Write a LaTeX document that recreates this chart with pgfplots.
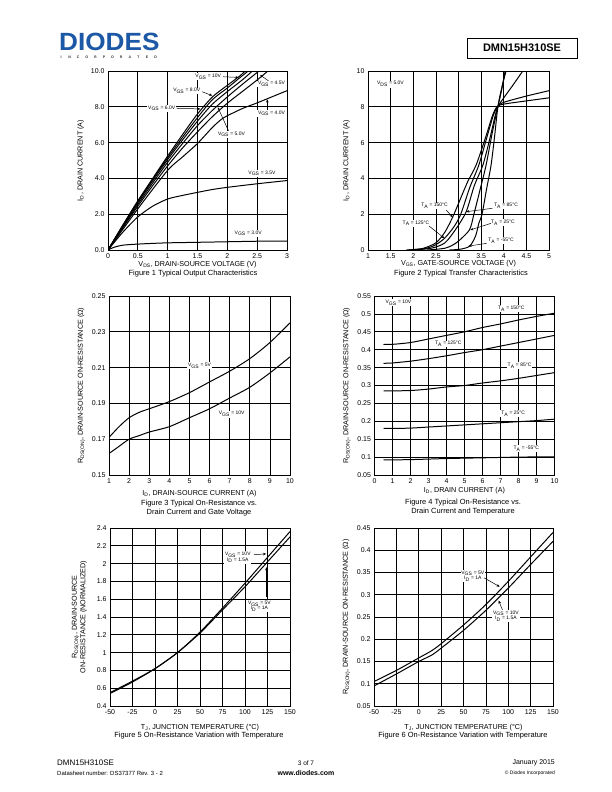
\documentclass[border=0pt]{standalone}
\usepackage{fontspec}
\setmainfont{Liberation Sans}
\usepackage{pgfplots}
\pgfplotsset{compat=1.18}
\usetikzlibrary{arrows.meta}

\newcommand{\sub}[1]{\textsubscript{#1}}
\definecolor{diodesblue}{RGB}{28,88,166}

\pgfplotsset{
  ds/.style={
    scale only axis, anchor=south west,
    grid=major,
    major grid style={black, line width=0.75pt},
    axis line style={black, line width=0.75pt},
    major tick length=0pt,
    tick style={draw=none},
    ticklabel style={font=\fontsize{7}{8}\selectfont},
    label style={font=\fontsize{7.2}{8.6}\selectfont},
    /pgf/number format/assume math mode=true,
    scaled ticks=false,
    clip mode=individual,
    every axis plot post/.append style={black, solid, line width=1pt, mark=none, smooth, tension=0.45},
  },
}
\tikzset{
  ann/.style={font=\fontsize{5}{5.6}\selectfont, fill=white, inner sep=0.8pt, align=center},
  arr/.style={-{Stealth[length=3.2pt,width=2.6pt]}, line width=0.5pt},
}

\begin{document}
\begin{tikzpicture}
\path[use as bounding box] (0,0) rectangle (612bp,-792bp);

% ---------------- header and footer
\begin{scope}[x=1bp,y=-1bp]
\node[anchor=west, inner sep=0, text=diodesblue, font=\fontsize{25}{25}\selectfont\bfseries, xscale=1.05] at (59,41.5) {DIODES};
\foreach \c [count=\i] in {I,N,C,O,R,P,O,R,A,T,E,D}
  \node[inner sep=0, font=\fontsize{3.6}{4}\selectfont\bfseries, text=black!80] at (61+8.6*\i-8.6,57) {\c};
\draw[line width=0.8pt] (467,38) rectangle (577,58);
\node[font=\fontsize{11}{12}\selectfont\bfseries] at (522,48) {DMN15H310SE};

\node[anchor=west, inner sep=0, font=\fontsize{8}{9}\selectfont] at (57,763) {DMN15H310SE};
\node[anchor=west, inner sep=0, font=\fontsize{6}{7}\selectfont] at (57,773) {Datasheet number: DS37377 Rev. 3 - 2};
\node[inner sep=0, font=\fontsize{6.5}{7}\selectfont] at (306,763) {3 of 7};
\node[inner sep=0, font=\fontsize{7}{8}\selectfont\bfseries] at (306,773) {www.diodes.com};
\node[anchor=east, inner sep=0, font=\fontsize{7}{8}\selectfont] at (555,763) {January 2015};
\node[anchor=east, inner sep=0, font=\fontsize{5}{6}\selectfont] at (555,773) {\textcopyright{} Diodes Incorporated};

% captions
\node[font=\fontsize{7.5}{9}\selectfont] at (193,273.5) {Figure 1 Typical Output Characteristics};
\node[font=\fontsize{7.5}{9}\selectfont] at (461,273.5) {Figure 2 Typical Transfer Characteristics};
\node[font=\fontsize{7.5}{9.5}\selectfont, align=center] at (199,508) {Figure 3 Typical On-Resistance vs.\\Drain Current and Gate Voltage};
\node[font=\fontsize{7.5}{9.5}\selectfont, align=center] at (463,507) {Figure 4 Typical On-Resistance vs.\\Drain Current and Temperature};
\node[font=\fontsize{7.5}{9}\selectfont] at (199,735.5) {Figure 5 On-Resistance Variation with Temperature};
\node[font=\fontsize{7.5}{9}\selectfont] at (463,735.5) {Figure 6 On-Resistance Variation with Temperature};
\end{scope}

% ---------------- Figure 1
\begin{axis}[ds, at={(108bp,-250bp)}, width=179bp, height=179bp,
  xmin=0, xmax=3, ymin=0, ymax=10,
  xtick={0,0.5,1,1.5,2,2.5,3}, ytick={0,2,4,6,8,10},
  yticklabel style={/pgf/number format/.cd, fixed, fixed zerofill, precision=1},
  xlabel style={yshift=4bp},
  xlabel={V\sub{DS}, DRAIN-SOURCE VOLTAGE (V)},
  ylabel={I\sub{D}, DRAIN CURRENT (A)}]
\addplot coordinates {(0,0) (0.25,1.4) (0.5,2.75) (0.75,4.0) (1,5.25) (1.25,6.45) (1.5,7.6) (1.75,8.55) (2,9.2) (2.2,9.7) (2.3,10)};
\addplot coordinates {(0,0) (0.25,1.38) (0.5,2.7) (0.75,3.95) (1,5.15) (1.25,6.3) (1.5,7.4) (1.75,8.4) (2,9.05) (2.2,9.6) (2.35,10)};
\addplot coordinates {(0,0) (0.25,1.35) (0.5,2.65) (0.75,3.87) (1,5.05) (1.25,6.15) (1.5,7.2) (1.75,8.15) (2,8.85) (2.25,9.5) (2.42,10)};
\addplot coordinates {(0,0) (0.25,1.3) (0.5,2.55) (0.75,3.75) (1,4.9) (1.25,5.95) (1.5,6.95) (1.75,7.8) (2,8.55) (2.25,9.25) (2.53,10)};
\addplot coordinates {(0,0) (0.25,1.25) (0.5,2.45) (0.75,3.6) (1,4.7) (1.25,5.7) (1.5,6.6) (1.75,7.45) (2,8.2) (2.25,8.85) (2.5,9.5) (2.68,10)};
\addplot coordinates {(0,0) (0.5,2.3) (1,4.45) (1.25,5.2) (1.5,5.95) (1.75,6.85) (1.9,7.3) (2,7.5) (2.25,7.9) (2.5,8.22) (2.75,8.56) (3,8.9)};
\addplot coordinates {(0,0) (0.25,1.0) (0.5,1.85) (0.75,2.45) (1,2.85) (1.25,3.05) (1.5,3.22) (1.75,3.38) (2,3.5) (2.5,3.7) (3,3.88)};
\addplot coordinates {(0,0) (0.1,0.15) (0.25,0.27) (0.5,0.33) (0.75,0.37) (1,0.4) (1.5,0.43) (2,0.46) (2.5,0.49) (3,0.5)};
\node[ann] at (axis cs:1.68,9.68) {V\sub{GS} = 10V};
\draw[arr] (axis cs:1.93,9.68) -- (axis cs:2.19,9.64);
\node[ann] at (axis cs:1.32,8.88) {V\sub{GS} = 8.0V};
\draw[arr] (axis cs:1.58,8.84) -- (axis cs:1.75,8.62);
\node[ann] at (axis cs:0.9,7.92) {V\sub{GS} = 6.0V};
\draw[arr] (axis cs:1.15,7.92) -- (axis cs:1.55,7.88);
\node[ann] at (axis cs:2.07,6.46) {V\sub{GS} = 5.0V};
\draw[arr] (axis cs:2.02,6.65) -- (axis cs:1.84,7.98);
\node[ann] at (axis cs:2.74,9.27) {V\sub{GS} = 4.5V};
\draw[arr] (axis cs:2.69,9.45) -- (axis cs:2.55,9.78);
\node[ann] at (axis cs:2.74,7.64) {V\sub{GS} = 4.0V};
\draw[arr] (axis cs:2.67,7.84) -- (axis cs:2.67,8.42);
\node[ann] at (axis cs:2.58,4.28) {V\sub{GS} = 3.5V};
\node[ann] at (axis cs:2.35,0.93) {V\sub{GS} = 3.0V};
\end{axis}

% ---------------- Figure 2
\begin{axis}[ds, at={(368bp,-250bp)}, width=181bp, height=179bp,
  xmin=1, xmax=5, ymin=0, ymax=10,
  xtick={1,1.5,2,2.5,3,3.5,4,4.5,5}, ytick={0,2,4,6,8,10},
  xlabel style={yshift=5bp},
  xlabel={V\sub{GS}, GATE-SOURCE VOLTAGE (V)},
  ylabel={I\sub{D}, DRAIN CURRENT (A)}]
% 150 C
\addplot coordinates {(1.85,0) (2.2,0.08) (2.5,0.4) (2.7,1.0) (2.87,1.83) (3.0,2.6) (3.2,3.8) (3.39,4.75) (3.6,6.3) (3.75,7.5) (3.85,8.0) (4.0,8.15) (4.5,8.33) (5,8.5)};
% 125 C
\addplot coordinates {(1.9,0) (2.3,0.1) (2.5,0.3) (2.69,0.65) (2.9,1.3) (3.05,2.0) (3.25,3.5) (3.45,4.75) (3.65,6.5) (3.78,7.6) (3.88,8.05) (4.0,8.25) (4.5,8.6) (5,8.9)};
% 85 C
\addplot coordinates {(2.0,0) (2.4,0.1) (2.7,0.4) (2.95,1.2) (3.17,2.14) (3.35,3.6) (3.54,4.75) (3.7,6.3) (3.8,7.4) (3.87,8.0) (4.0,8.5) (4.2,9.2) (4.42,10)};
% 25 C
\addplot coordinates {(2.3,0) (2.7,0.1) (2.95,0.4) (3.24,1.12) (3.34,2.0) (3.48,3.4) (3.61,4.75) (3.75,6.6) (3.87,8.0) (3.95,8.9) (4.03,10)};
% -55 C
\addplot coordinates {(2.8,0) (3.05,0.05) (3.25,0.22) (3.38,0.8) (3.45,1.5) (3.52,2.0) (3.62,3.4) (3.72,4.75) (3.8,6.4) (3.87,8.0) (3.95,9.0) (4.05,10)};
\node[ann, anchor=west] at (axis cs:1.18,9.27) {V\sub{DS} = 5.0V};
\node[ann] at (axis cs:2.47,2.46) {T\sub{A} = 150°C};
\draw[arr] (axis cs:2.73,2.23) -- (axis cs:2.87,1.83);
\node[ann] at (axis cs:2.06,1.49) {T\sub{A} = 125°C};
\draw[arr] (axis cs:2.35,1.34) -- (axis cs:2.69,0.65);
\node[ann] at (axis cs:4.05,2.46) {T\sub{A} = 85°C};
\draw[arr] (axis cs:3.75,2.33) -- (axis cs:3.17,2.14);
\node[ann] at (axis cs:3.98,1.53) {T\sub{A} = 25°C};
\draw[arr] (axis cs:3.72,1.49) -- (axis cs:3.26,1.12);
\node[ann] at (axis cs:3.94,0.52) {T\sub{A} = -55°C};
\draw[arr] (axis cs:3.62,0.37) -- (axis cs:3.22,0.22);
\end{axis}

% ---------------- Figure 3
\begin{axis}[ds, at={(109bp,-475bp)}, width=181bp, height=179bp,
  xmin=1, xmax=10, ymin=0.15, ymax=0.25,
  xtick={1,2,...,10}, ytick={0.15,0.17,0.19,0.21,0.23,0.25},
  yticklabel style={/pgf/number format/.cd, fixed, fixed zerofill, precision=2},
  xlabel={I\sub{D}, DRAIN-SOURCE CURRENT (A)},
  ylabel={R\sub{DS(ON)}, DRAIN-SOURCE ON-RESISTANCE (Ω)}]
\addplot coordinates {(1,0.171) (1.5,0.177) (2,0.182) (2.5,0.185) (3,0.187) (4,0.191) (5,0.196) (6,0.202) (7,0.208) (8,0.215) (9,0.224) (10,0.235)};
\addplot coordinates {(1,0.162) (1.5,0.166) (2,0.170) (2.5,0.172) (3,0.174) (4,0.177) (5,0.182) (6,0.187) (7,0.193) (8,0.199) (9,0.207) (10,0.216)};
\node[ann] at (axis cs:5.5,0.211) {V\sub{GS} = 5V};
\node[ann] at (axis cs:7.1,0.184) {V\sub{GS} = 10V};
\end{axis}

% ---------------- Figure 4
\begin{axis}[ds, at={(374.5bp,-475bp)}, width=180bp, height=179bp,
  xmin=0, xmax=10, ymin=0.05, ymax=0.55,
  xtick={0,1,...,10}, ytick={0.05,0.1,0.15,0.2,0.25,0.3,0.35,0.4,0.45,0.5,0.55},
  yticklabel style={/pgf/number format/.cd, fixed, precision=2},
  xlabel style={yshift=3bp},
  xlabel={I\sub{D}, DRAIN CURRENT (A)},
  ylabel={R\sub{DS(ON)}, DRAIN-SOURCE ON-RESISTANCE (Ω)}]
\addplot coordinates {(0.5,0.415) (1,0.415) (2,0.42) (3,0.43) (4,0.44) (5,0.45) (6,0.462) (7,0.472) (8,0.483) (9,0.493) (10,0.502)};
\addplot coordinates {(0.5,0.362) (1,0.363) (2,0.368) (3,0.375) (4,0.383) (5,0.392) (6,0.40) (7,0.41) (8,0.42) (9,0.43) (10,0.44)};
\addplot coordinates {(0.5,0.285) (1,0.285) (2,0.286) (3,0.29) (4,0.296) (5,0.30) (6,0.307) (7,0.313) (8,0.32) (9,0.328) (10,0.336)};
\addplot coordinates {(0.5,0.18) (1,0.18) (2,0.181) (3,0.184) (4,0.187) (5,0.19) (6,0.193) (7,0.196) (8,0.199) (9,0.202) (10,0.206)};
\addplot coordinates {(0.5,0.092) (2,0.093) (4,0.096) (6,0.098) (8,0.1) (10,0.101)};
\node[ann] at (axis cs:1.33,0.532) {V\sub{GS} = 10V};
\node[ann] at (axis cs:7.6,0.515) {T\sub{A} = 150°C};
\node[ann] at (axis cs:4.1,0.416) {T\sub{A} = 125°C};
\node[ann] at (axis cs:8.06,0.356) {T\sub{A} = 85°C};
\node[ann] at (axis cs:7.7,0.222) {T\sub{A} = 25°C};
\node[ann] at (axis cs:8.43,0.124) {T\sub{A} = -55°C};
\end{axis}

% ---------------- Figure 5
\begin{axis}[ds, at={(110bp,-706bp)}, width=180bp, height=178bp,
  xmin=-50, xmax=150, ymin=0.4, ymax=2.4,
  xtick={-50,-25,...,150}, ytick={0.4,0.6,0.8,1,1.2,1.4,1.6,1.8,2,2.2,2.4},
  yticklabel style={/pgf/number format/.cd, fixed, precision=1},
  xlabel style={yshift=-3bp},
  xlabel={T\sub{J}, JUNCTION TEMPERATURE (°C)},
  ylabel style={align=center, yshift=3bp},
  ylabel={R\sub{DS(ON)}, DRAIN-SOURCE\\ON-RESISTANCE (NORMALIZED)}]
\addplot coordinates {(-50,0.55) (-25,0.68) (0,0.82) (25,1.0) (50,1.23) (75,1.5) (100,1.78) (125,2.07) (150,2.36)};
\addplot coordinates {(-50,0.54) (-25,0.67) (0,0.82) (25,1.0) (50,1.22) (75,1.48) (100,1.74) (125,2.02) (150,2.3)};
\node[ann] at (axis cs:92,2.07) {V\sub{GS} = 10V\\I\sub{D} = 1.5A};
\draw[arr] (axis cs:110,2.1) -- (axis cs:123.5,2.11);
\node[ann] at (axis cs:116,1.52) {V\sub{GS} = 5V\\I\sub{D} = 1A};
\draw[arr] (axis cs:123.8,1.62) -- (axis cs:123.8,1.96);
\end{axis}

% ---------------- Figure 6
\begin{axis}[ds, at={(374bp,-706bp)}, width=179bp, height=178bp,
  xmin=-50, xmax=150, ymin=0.05, ymax=0.45,
  xtick={-50,-25,...,150}, ytick={0.05,0.1,0.15,0.2,0.25,0.3,0.35,0.4,0.45},
  yticklabel style={/pgf/number format/.cd, fixed, precision=2},
  xlabel style={yshift=-3bp},
  xlabel={T\sub{J}, JUNCTION TEMPERATURE (°C)},
  ylabel={R\sub{DS(ON)}, DRAIN-SOURCE ON-RESISTANCE (Ω)}]
\addplot coordinates {(-50,0.105) (-25,0.13) (0,0.158) (15,0.175) (25,0.19) (50,0.232) (75,0.278) (100,0.33) (125,0.385) (150,0.44)};
\addplot coordinates {(-50,0.095) (-25,0.122) (0,0.15) (15,0.165) (25,0.18) (50,0.22) (75,0.265) (100,0.315) (125,0.368) (150,0.42)};
\node[ann] at (axis cs:60.4,0.342) {V\sub{GS} = 5V\\I\sub{D} = 1A};
\draw[arr] (axis cs:73,0.338) -- (axis cs:90.5,0.318);
\node[ann] at (axis cs:97.4,0.252) {V\sub{GS} = 10V\\I\sub{D} = 1.5A};
\draw[arr] (axis cs:93.5,0.266) -- (axis cs:89.3,0.287);
\end{axis}
\end{tikzpicture}
\end{document}
